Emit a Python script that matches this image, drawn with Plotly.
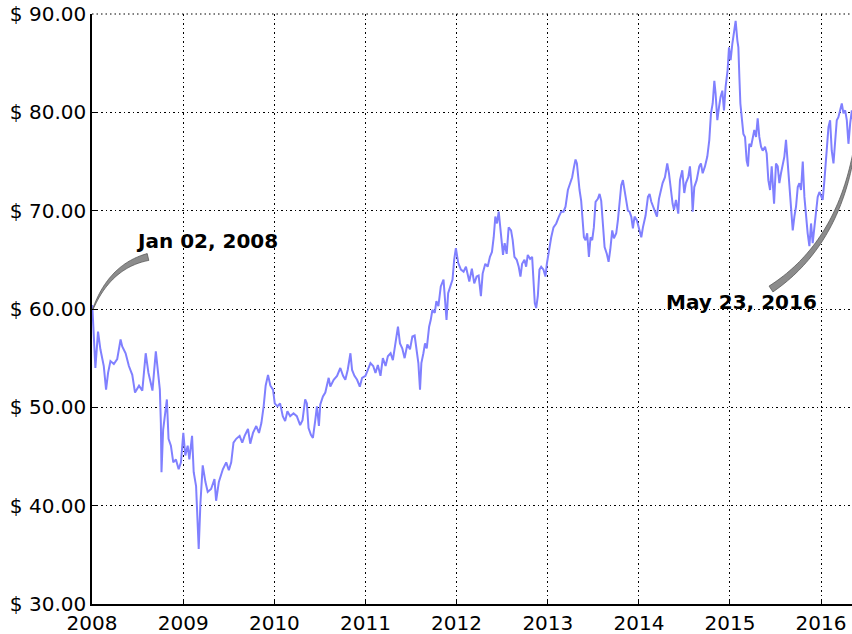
import math
import pandas as pd
import plotly.graph_objects as go

# ---------------- data ----------------
years = [
    2008.003, 2008.018, 2008.037, 2008.066, 2008.092, 2008.129, 2008.154, 2008.176, 2008.202, 2008.239,
    2008.276, 2008.313, 2008.331, 2008.368, 2008.404, 2008.441, 2008.471, 2008.515, 2008.551, 2008.588,
    2008.618, 2008.643, 2008.662, 2008.699, 2008.717, 2008.743, 2008.754, 2008.761, 2008.779, 2008.801,
    2008.820, 2008.838, 2008.864, 2008.890, 2008.919, 2008.949, 2008.974, 2009.000, 2009.022, 2009.048,
    2009.066, 2009.096, 2009.114, 2009.140, 2009.158, 2009.169, 2009.188, 2009.213, 2009.243, 2009.268,
    2009.305, 2009.342, 2009.360, 2009.390, 2009.434, 2009.471, 2009.500, 2009.526, 2009.551, 2009.581,
    2009.618, 2009.647, 2009.673, 2009.710, 2009.735, 2009.765, 2009.801, 2009.831, 2009.857, 2009.882,
    2009.904, 2009.930, 2009.956, 2009.985, 2010.004,
    2010.033, 2010.0625, 2010.092, 2010.118, 2010.143, 2010.173, 2010.210, 2010.246, 2010.283, 2010.309,
    2010.338, 2010.357, 2010.375, 2010.401, 2010.423, 2010.449, 2010.467, 2010.489, 2010.504, 2010.533,
    2010.559, 2010.596, 2010.614, 2010.651, 2010.688, 2010.724, 2010.754, 2010.779, 2010.805, 2010.835,
    2010.853, 2010.879, 2010.908, 2010.938, 2010.963, 2011.000, 2011.026, 2011.055, 2011.085, 2011.110,
    2011.136, 2011.165, 2011.191, 2011.221, 2011.246, 2011.276, 2011.301, 2011.331, 2011.357, 2011.379,
    2011.404, 2011.430, 2011.460, 2011.489, 2011.515, 2011.540, 2011.563, 2011.581, 2011.599, 2011.614,
    2011.636, 2011.654, 2011.673, 2011.699, 2011.717, 2011.735, 2011.761, 2011.779, 2011.801, 2011.827,
    2011.857, 2011.871, 2011.890, 2011.908, 2011.930, 2011.956, 2011.974, 2011.993, 2012.018, 2012.048,
    2012.077, 2012.103, 2012.140,
    2012.168, 2012.194, 2012.220, 2012.242, 2012.267, 2012.286, 2012.315, 2012.341, 2012.366, 2012.388,
    2012.407, 2012.425, 2012.443, 2012.462, 2012.480, 2012.498, 2012.509, 2012.527, 2012.549, 2012.571,
    2012.597, 2012.615, 2012.634, 2012.659, 2012.681, 2012.700, 2012.718, 2012.744, 2012.762, 2012.780,
    2012.806, 2012.828, 2012.842, 2012.857, 2012.872, 2012.890, 2012.908, 2012.927, 2012.952, 2012.974,
    2012.989, 2013.011, 2013.037, 2013.062, 2013.092, 2013.121, 2013.147, 2013.172, 2013.194, 2013.220,
    2013.245, 2013.267, 2013.286, 2013.304, 2013.319, 2013.333, 2013.348, 2013.366, 2013.385, 2013.396,
    2013.414, 2013.432, 2013.451, 2013.469, 2013.487, 2013.505, 2013.524, 2013.549, 2013.568, 2013.586,
    2013.604, 2013.623, 2013.648, 2013.667, 2013.685, 2013.707, 2013.725, 2013.751, 2013.769, 2013.788,
    2013.806, 2013.824, 2013.842, 2013.861, 2013.879, 2013.897, 2013.916, 2013.934, 2013.952, 2013.978,
    2014.000, 2014.026, 2014.044, 2014.073, 2014.099, 2014.117, 2014.136, 2014.154, 2014.172, 2014.198,
    2014.220,
    2014.260, 2014.286, 2014.311, 2014.330, 2014.348, 2014.370, 2014.385, 2014.407, 2014.432, 2014.451,
    2014.476, 2014.498, 2014.516, 2014.542, 2014.560, 2014.579, 2014.590, 2014.608, 2014.634, 2014.663,
    2014.681, 2014.700, 2014.725, 2014.751, 2014.773, 2014.791, 2014.810, 2014.828, 2014.842, 2014.861,
    2014.879, 2014.897, 2014.916, 2014.934, 2014.952, 2014.974, 2014.989, 2015.007, 2015.026, 2015.044,
    2015.062, 2015.081, 2015.092, 2015.103, 2015.114, 2015.132, 2015.147, 2015.165, 2015.183, 2015.198,
    2015.212, 2015.231, 2015.249, 2015.267, 2015.286, 2015.304, 2015.322, 2015.341, 2015.359, 2015.385,
    2015.403, 2015.421, 2015.440, 2015.458, 2015.484, 2015.505, 2015.524, 2015.542, 2015.560, 2015.579,
    2015.597, 2015.615, 2015.634, 2015.652, 2015.670, 2015.689, 2015.707, 2015.725, 2015.744, 2015.762,
    2015.780, 2015.799, 2015.817, 2015.835, 2015.853, 2015.872, 2015.890, 2015.908, 2015.927, 2015.945,
    2015.963, 2015.982, 2016.000, 2016.018, 2016.037, 2016.055, 2016.081, 2016.099, 2016.117, 2016.136,
    2016.154, 2016.172, 2016.190, 2016.209, 2016.227, 2016.245, 2016.264, 2016.282, 2016.300, 2016.319,
    2016.337, 2016.360, 2016.390,
]

prices = [
    60.4, 57.6, 54.0, 57.7, 55.9, 54.2, 51.8, 53.5, 54.7, 54.4,
    54.9, 56.9, 56.2, 55.5, 54.2, 53.3, 51.5, 52.2, 51.7, 55.5,
    53.5, 52.5, 51.7, 55.7, 54.0, 51.8, 48.4, 43.4, 47.7, 49.1,
    50.8, 46.8, 46.1, 44.4, 44.7, 43.7, 44.4, 47.4, 45.1, 46.1,
    44.7, 47.1, 43.4, 42.0, 37.6, 35.6, 40.3, 44.1, 42.4, 41.4,
    41.7, 42.7, 40.5, 42.4, 43.7, 44.4, 43.6, 44.4, 46.4, 46.8,
    47.1, 46.4, 47.1, 47.8, 46.3, 47.4, 48.1, 47.4, 48.4, 50.1,
    52.2, 53.3, 52.2, 51.8, 50.4,
    50.1, 50.4, 49.1, 48.6, 49.6, 49.1, 49.4, 49.1, 48.2, 48.7,
    50.8, 50.4, 47.9, 47.2, 46.9, 48.7, 50.1, 48.1, 50.3, 51.1,
    51.5, 53.0, 52.1, 52.8, 53.2, 54.0, 53.2, 52.8, 53.8, 55.5,
    53.8, 53.2, 52.8, 52.1, 53.0, 53.2, 53.8, 54.5, 54.2, 53.5,
    54.3, 53.2, 55.0, 54.2, 55.2, 55.5, 54.8, 56.5, 58.2, 56.5,
    56.0, 55.0, 56.4, 55.9, 57.2, 57.3, 55.9, 54.5, 51.8, 54.5,
    55.5, 56.5, 56.0, 58.2, 58.9, 59.9, 59.6, 60.8, 60.3, 62.3,
    63.0, 61.3, 58.9, 61.6, 62.3, 63.0, 65.0, 66.2, 64.7, 64.0,
    63.8, 64.3, 62.8,
    64.1, 62.6, 63.3, 63.4, 61.3, 63.6, 64.6, 64.3, 65.3, 65.8,
    67.3, 69.4, 68.7, 69.9, 68.3, 67.0, 65.5, 66.7, 65.6, 68.3,
    68.0, 67.0, 65.3, 65.0, 64.3, 63.3, 64.6, 65.0, 64.3, 65.5,
    65.1, 65.3, 62.9, 60.6, 60.1, 61.3, 64.0, 64.3, 64.0, 63.3,
    64.6, 66.0, 67.3, 68.3, 68.7, 69.4, 69.9, 69.9, 70.4, 72.1,
    72.7, 73.4, 74.4, 75.2, 74.8, 73.4, 72.1, 71.0, 69.0, 67.3,
    67.0, 67.7, 65.3, 67.3, 67.0, 68.3, 70.9, 71.2, 71.7, 71.0,
    68.7, 66.3, 65.6, 64.8, 66.0, 68.0, 67.2, 67.7, 69.0, 71.0,
    72.6, 73.1, 72.1, 71.0, 70.0, 69.9, 69.4, 68.2, 69.4, 69.0,
    68.3, 67.3, 68.3, 69.5, 71.4, 71.7, 70.9, 70.4, 70.0, 69.4,
    71.2,
    72.8, 73.4, 74.8, 73.8, 72.1, 70.7, 70.1, 71.1, 69.7, 73.1,
    74.1, 71.8, 72.8, 73.4, 74.5, 72.4, 69.9, 72.4, 73.1, 74.5,
    74.8, 73.8, 74.5, 75.5, 77.2, 79.9, 80.9, 83.2, 81.9, 79.2,
    80.5, 81.6, 82.2, 80.2, 82.6, 84.3, 86.6, 85.3, 87.0, 88.0,
    89.3, 87.3, 86.6, 83.6, 80.9, 79.2, 77.8, 77.5, 75.1, 74.5,
    76.8, 76.5, 77.5, 78.2, 77.5, 79.4, 77.5, 76.5, 76.1, 76.5,
    75.8, 73.1, 72.1, 74.5, 70.7, 74.8, 74.5, 72.8, 73.8, 74.8,
    75.5, 77.2, 74.8, 72.1, 69.7, 68.0, 69.4, 70.4, 72.4, 72.8,
    72.1, 75.0, 71.4, 69.4, 67.7, 66.4, 68.7, 66.7, 68.4, 69.7,
    71.4, 71.9, 71.4, 71.1, 73.1, 75.5, 78.5, 79.2, 76.1, 74.8,
    77.5, 79.2, 79.5, 80.2, 80.9, 79.9, 80.2, 79.2, 76.8, 78.9,
    80.2, 78.5, 77.7,
]
assert len(years) == len(prices), (len(years), len(prices))

x_tick_years = list(range(2008, 2017))
x_tick_labels = [str(y) for y in x_tick_years]
y_tick_values = [30, 40, 50, 60, 70, 80, 90]
y_tick_labels = [f"$ {v:.2f}" for v in y_tick_values]
start_label = "Jan 02, 2008"
end_label = "May 23, 2016"


def year_to_date(y):
    yi = int(math.floor(y + 1e-9))
    base = pd.Timestamp(yi, 1, 1)
    span = pd.Timestamp(yi + 1, 1, 1) - base
    return base + (y - yi) * span


dates = [year_to_date(y) for y in years]
tick_dates = [pd.Timestamp(y, 1, 1) for y in x_tick_years]

# ---------------- layout geometry ----------------
W, H = 852, 634
ML, MR, MT, MB = 92, 0, 14, 30
PW, PH = W - ML - MR, H - MT - MB


def to_paper(px, py):
    return (px - ML) / PW, (H - MB - py) / PH


def wedge_path(p0, p1, p2, w0, w2, n=48):
    left, right = [], []
    for i in range(n + 1):
        t = i / n
        x = (1 - t) ** 2 * p0[0] + 2 * (1 - t) * t * p1[0] + t ** 2 * p2[0]
        y = (1 - t) ** 2 * p0[1] + 2 * (1 - t) * t * p1[1] + t ** 2 * p2[1]
        dx = 2 * (1 - t) * (p1[0] - p0[0]) + 2 * t * (p2[0] - p1[0])
        dy = 2 * (1 - t) * (p1[1] - p0[1]) + 2 * t * (p2[1] - p1[1])
        nrm = math.hypot(dx, dy) or 1.0
        nx, ny = -dy / nrm, dx / nrm
        w = w0 + (w2 - w0) * t
        left.append((x + nx * w / 2, y + ny * w / 2))
        right.append((x - nx * w / 2, y - ny * w / 2))
    pts = left + right[::-1]
    segs = []
    for k, (px, py) in enumerate(pts):
        qx, qy = to_paper(px, py)
        segs.append(("M" if k == 0 else "L") + f"{qx:.5f},{qy:.5f}")
    return " ".join(segs) + " Z"


fig = go.Figure()
fig.add_trace(go.Scatter(
    x=dates, y=prices, mode="lines",
    line=dict(color="#8080ff", width=2.0),
    showlegend=False, hoverinfo="skip",
))

grid_dash = "1.5px,3px"
axis_font = dict(family="DejaVu Sans", size=20, color="#000000")

fig.update_xaxes(
    type="date",
    range=["2008-01-01", "2016-05-04"],
    tickmode="array", tickvals=tick_dates, ticktext=x_tick_labels,
    showgrid=True, gridcolor="#000000", gridwidth=1, griddash=grid_dash,
    showline=True, linecolor="#000000", linewidth=1.6,
    ticks="inside", ticklen=5, tickwidth=1.2, tickcolor="#000000",
    tickfont=axis_font, zeroline=False,
)
fig.update_yaxes(
    range=[30, 90],
    tickmode="array", tickvals=y_tick_values, ticktext=y_tick_labels,
    showgrid=True, gridcolor="#000000", gridwidth=1, griddash=grid_dash,
    showline=True, linecolor="#000000", linewidth=1.6,
    ticks="inside", ticklen=5, tickwidth=1.2, tickcolor="#000000",
    tickfont=axis_font, zeroline=False,
)

shapes = [
    dict(type="line", xref="paper", yref="paper", x0=0, x1=1, y0=1, y1=1,
         line=dict(color="#000000", width=1, dash=grid_dash), layer="below"),
    dict(type="path", xref="paper", yref="paper",
         path=wedge_path((148, 257), (110, 266), (93, 309), 7.0, 0.6),
         fillcolor="#8c8c8c", line=dict(color="#5a5a5a", width=0.8)),
    dict(type="path", xref="paper", yref="paper",
         path=wedge_path((771, 289), (845, 240), (857, 130), 7.0, 1.0),
         fillcolor="#8c8c8c", line=dict(color="#5a5a5a", width=0.8)),
]

ax0, ay0 = to_paper(207, 241)
ax1, ay1 = to_paper(741.5, 302)
annotations = [
    dict(text=f"<b>{start_label}</b>", xref="paper", yref="paper", x=ax0, y=ay0,
         xanchor="center", yanchor="middle", showarrow=False,
         font=dict(family="DejaVu Sans", size=20, color="#000000")),
    dict(text=f"<b>{end_label}</b>", xref="paper", yref="paper", x=ax1, y=ay1,
         xanchor="center", yanchor="middle", showarrow=False,
         font=dict(family="DejaVu Sans", size=20, color="#000000")),
]

fig.update_layout(
    width=W, height=H,
    margin=dict(l=ML, r=MR, t=MT, b=MB, pad=0),
    paper_bgcolor="#ffffff", plot_bgcolor="#ffffff",
    shapes=shapes, annotations=annotations,
    font=dict(family="DejaVu Sans", size=20, color="#000000"),
)

fig.write_html(
    "out.html",
    config={"displayModeBar": False},
    post_script="document.body.style.margin='0';document.body.style.overflow='hidden';",
)
